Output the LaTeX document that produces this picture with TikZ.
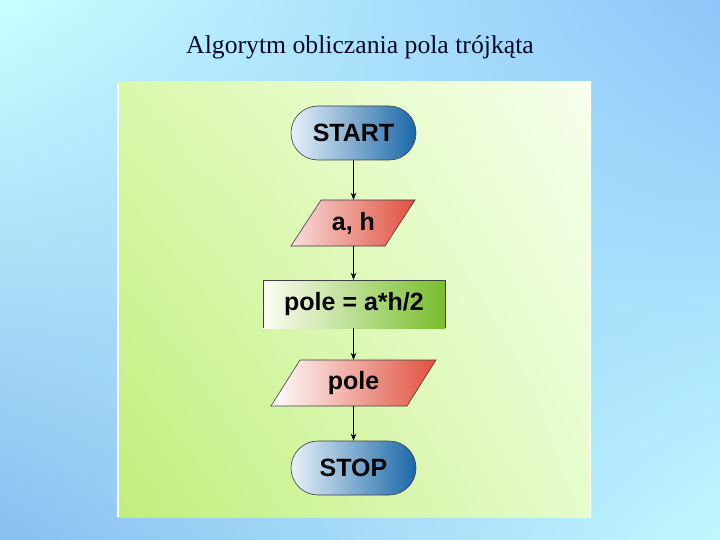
\documentclass[tikz,border=0pt]{standalone}
\usepackage{fontspec}
\setmainfont{Liberation Serif}
\newfontfamily\arialf{Liberation Sans}
\usetikzlibrary{arrows.meta,shadings}
\definecolor{bgUL}{HTML}{C8FFFF}
\definecolor{bgUR}{HTML}{8EC4F8}
\definecolor{bgLL}{HTML}{8ABEF0}
\definecolor{bgLR}{HTML}{C0F8FF}
\definecolor{pnUL}{HTML}{DAF8AC}
\definecolor{pnUR}{HTML}{F6FFEC}
\definecolor{pnLL}{HTML}{C0EE7A}
\definecolor{pnLR}{HTML}{E6FCCC}
\definecolor{termL}{HTML}{E8F0F8}
\definecolor{termR}{HTML}{1A68A8}
\definecolor{ioL}{HTML}{F8DCDC}
\definecolor{ioR}{HTML}{E0503E}
\definecolor{prL}{HTML}{FCFDF4}
\definecolor{prR}{HTML}{78BE2C}
\definecolor{edge}{HTML}{404040}
\begin{document}
\begin{tikzpicture}[x=1pt,y=-1pt,
  lbl/.style={font=\arialf\bfseries\fontsize{25}{25}\selectfont, text=black},
  term/.style={lbl, rounded corners=27pt, minimum width=125pt, minimum height=54pt,
    inner sep=0pt, draw=edge, line width=0.6pt, left color=termL, right color=termR},
  iobox/.style={lbl, rectangle, minimum width=90pt, minimum height=46pt, inner sep=0pt},
  conn/.style={-{Stealth[length=7pt,width=5.5pt]}, line width=0.7pt, black}]
\useasboundingbox (0,0) rectangle (720,540);
\shade[upper left=bgUL, upper right=bgUR, lower left=bgLL, lower right=bgLR] (0,0) rectangle (720,540);
\node[font=\fontsize{25.7}{26}\selectfont, text={rgb,255:red,10;green,10;blue,40}] (title) at (360,47) {Algorytm obliczania pola trójkąta};
% panel
\shade[upper left=pnUL, upper right=pnUR, lower left=pnLL, lower right=pnLR] (117,82) rectangle (591,517);
\draw[white, line width=1.6pt] (117.8,84) -- (117.8,517);
\draw[white, line width=1pt, opacity=0.7] (590.5,84) -- (590.5,517);
% shapes
\node[term] (start) at (353.5,133) {START};
\shade[left color=ioL, right color=ioR, draw=edge, line width=0.6pt, shift={(353,223)}]
  (-62,23) -- (-32,-23) -- (62,-23) -- (32,23) -- cycle;
\node[iobox] (ah) at (353.5,223) {a, h};
\shade[left color=prL, right color=prR] (263,280) rectangle (445,328);
\node[lbl, minimum width=182pt, minimum height=48pt, inner sep=0pt] (calc) at (354,304) {pole = a*h/2};
\draw[edge, line width=0.6pt] (calc.south west) -- (calc.north west) -- (calc.north east) -- (calc.south east);
\shade[left color=white, right color=ioR, draw=edge, line width=0.6pt, shift={(353,383)}]
  (-82,23) -- (-53,-23) -- (83,-23) -- (54,23) -- cycle;
\node[iobox] (out) at (353.5,383) {pole};
\node[term] (stop) at (353.5,468) {STOP};
% connectors
\draw[conn] (start.south) -- (ah.north);
\draw[conn] (ah.south) -- (ah.south |- calc.north);
\draw[conn] (out.north |- calc.south) -- (out.north);
\draw[conn] (out.south) -- (stop.north);
\end{tikzpicture}
\end{document}
